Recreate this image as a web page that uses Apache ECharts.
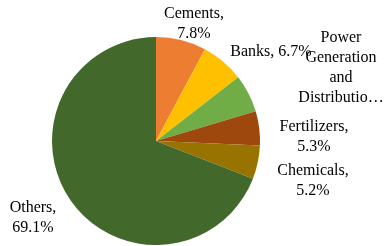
<!DOCTYPE html>
<html>
<head>
<meta charset="utf-8">
<script src="https://cdn.jsdelivr.net/npm/echarts@6/dist/echarts.min.js"></script>
<style>
  html, body { margin: 0; padding: 0; background: #fff; }
  #chart { width: 387px; height: 246px; }
</style>
</head>
<body>
<div id="chart"></div>
<script>
// sector shares, clockwise from 12 o'clock
var sectors = ["Cements", "Banks", "Power Generation and Distribution", "Fertilizers", "Chemicals", "Others"];
var shares = [7.8, 6.7, 5.9, 5.3, 5.2, 69.1];
var colors = ["#ED7D31", "#FFC000", "#70AD47", "#9E480E", "#997300", "#43682B"];
// how each label is broken / cut in the picture
var labelText = [
  "Cements,\n7.8%",
  "Banks, 6.7%",
  "Power\nGeneration\nand\nDistributio\u2026",
  "Fertilizers,\n5.3%",
  "Chemicals,\n5.2%",
  "Others,\n69.1%"
];
// label centres (px)
var labelPos = [[194, 24], [271, 52], [341, 68], [314, 137], [313, 181], [33, 218]];

var myChart = echarts.init(document.getElementById("chart"));
var option = {
  animation: false,
  series: [
    {
      type: "pie",
      center: [156, 141],
      radius: 104,
      startAngle: 90,
      clockwise: true,
      data: sectors.map(function (s, i) {
        return { name: s, value: shares[i], itemStyle: { color: colors[i] } };
      }),
      label: {
        show: true,
        position: "outside",
        formatter: function (p) { return labelText[p.dataIndex]; },
        fontFamily: "Liberation Serif",
        fontSize: 16,
        lineHeight: 20,
        color: "#000",
        align: "center",
        overflow: "none"
      },
      labelLine: { show: false },
      labelLayout: function (p) {
        var pos = labelPos[p.dataIndex];
        return { x: pos[0], y: pos[1], align: "center", verticalAlign: "middle" };
      },
      emphasis: { disabled: true }
    }
  ]
};
myChart.setOption(option);
</script>
</body>
</html>
